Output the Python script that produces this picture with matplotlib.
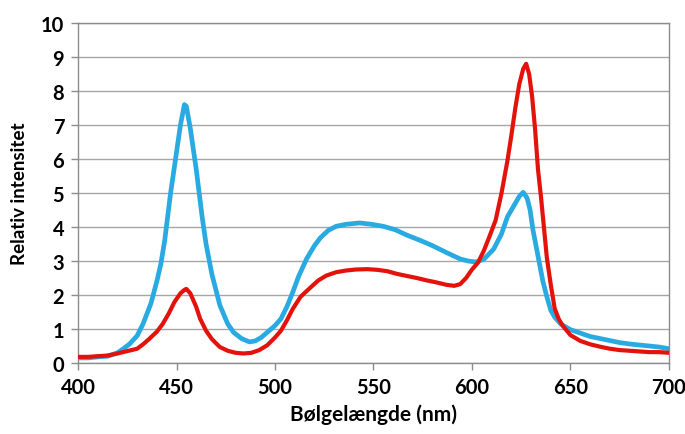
import matplotlib
matplotlib.use("Agg")
import matplotlib.pyplot as plt

# Wavelengths (nm) and relative intensity
blue_x = [400, 405, 410, 415, 420, 423, 426, 430, 433, 437, 440, 442, 444, 447, 450,
          452, 454, 455, 457, 460, 463, 465, 468, 472, 476, 479, 483, 487, 490, 493,
          497, 500, 503, 506, 509, 512, 516, 520, 523, 527, 531, 536, 543, 549, 555,
          561, 567, 574, 580, 587, 594, 598, 602, 606, 611, 615, 618, 621, 624, 626,
          628, 629.5, 631, 633, 635, 636, 638, 640, 642, 645, 650, 655, 660, 665, 670,
          675, 680, 685, 690, 695, 700]
blue_y = [0.15, 0.15, 0.18, 0.2, 0.3, 0.42, 0.55, 0.8, 1.15, 1.75, 2.4, 2.9, 3.6, 5.0, 6.2,
          7.0, 7.6, 7.55, 6.9, 5.7, 4.3, 3.5, 2.6, 1.7, 1.15, 0.9, 0.72, 0.62, 0.65, 0.75,
          0.95, 1.1, 1.3, 1.65, 2.08, 2.55, 3.06, 3.45, 3.68, 3.9, 4.02, 4.08, 4.12, 4.08, 4.02,
          3.92, 3.76, 3.6, 3.45, 3.25, 3.06, 3.0, 2.97, 3.05, 3.35, 3.8, 4.3, 4.6, 4.9, 5.02,
          4.85, 4.5, 3.9, 3.3, 2.7, 2.4, 1.95, 1.55, 1.35, 1.15, 0.98, 0.88, 0.78, 0.72, 0.66,
          0.6, 0.56, 0.53, 0.5, 0.47, 0.42]

red_x = [400, 405, 410, 415, 420, 425, 430, 433, 436, 440, 443, 446, 449, 452, 454,
         455, 457, 460, 462, 465, 468, 472, 476, 480, 484, 488, 492, 496, 500, 503,
         506, 509, 513, 518, 522, 526, 531, 536, 541, 547, 552, 557, 562, 567, 572,
         577, 582, 587, 591, 594, 597, 600, 603, 606, 609, 612, 615, 618, 620, 622,
         624, 626, 627.5, 629, 630.5, 632, 633.5, 635, 636.5, 638, 640, 642, 644, 646, 650,
         655, 660, 665, 670, 675, 680, 685, 690, 695, 700]
red_y = [0.18, 0.18, 0.2, 0.22, 0.28, 0.35, 0.42, 0.55, 0.7, 0.92, 1.15, 1.45, 1.8, 2.05, 2.15,
         2.18, 2.05, 1.65, 1.3, 0.95, 0.7, 0.47, 0.36, 0.3, 0.28, 0.3, 0.38, 0.52, 0.75, 0.95,
         1.25, 1.59, 1.95, 2.22, 2.43, 2.57, 2.67, 2.72, 2.75, 2.76, 2.74, 2.7, 2.62, 2.56, 2.5,
         2.43, 2.37, 2.3, 2.27, 2.32, 2.5, 2.75, 2.95, 3.3, 3.74, 4.2, 5.0, 5.95, 6.7, 7.5,
         8.2, 8.65, 8.8, 8.5, 7.85, 6.9, 5.7, 4.9, 4.0, 3.1, 2.3, 1.6, 1.3, 1.1, 0.82,
         0.65, 0.55, 0.48, 0.42, 0.38, 0.36, 0.34, 0.32, 0.32, 0.3]

x_ticks = [400, 450, 500, 550, 600, 650, 700]
y_ticks = list(range(0, 11))

plt.rcParams['font.family'] = ['Lato', 'DejaVu Sans']

fig = plt.figure(figsize=(6.85, 4.35), dpi=100)
ax = fig.add_axes([0.1139, 0.1632, 0.8627, 0.7816])

ax.plot(blue_x, blue_y, color='#29ABE2', lw=3.4, solid_capstyle='round', zorder=3)
ax.plot(red_x, red_y, color='#E3120B', lw=3.0, solid_capstyle='round', zorder=4)

ax.set_xlim(400, 700)
ax.set_ylim(0, 10)
ax.set_xticks(x_ticks)
ax.set_yticks(y_ticks)
ax.yaxis.grid(True, color='#A6A6A6', lw=1.0, zorder=0)
ax.set_axisbelow(True)
for s in ax.spines.values():
    s.set_color('#8C8C8C')
    s.set_linewidth(1.0)
ax.tick_params(axis='both', direction='out', length=5, width=1, color='#8C8C8C',
               labelsize=14.5, pad=5)
for lab in ax.get_xticklabels() + ax.get_yticklabels():
    lab.set_fontweight('bold')

ax.set_xlabel('Bølgelængde (nm)', fontsize=15, fontweight='bold', labelpad=5)
ax.set_ylabel('Relativ intensitet', fontsize=13.5, fontweight='bold', labelpad=9)

fig.savefig('out.png', dpi=100)
